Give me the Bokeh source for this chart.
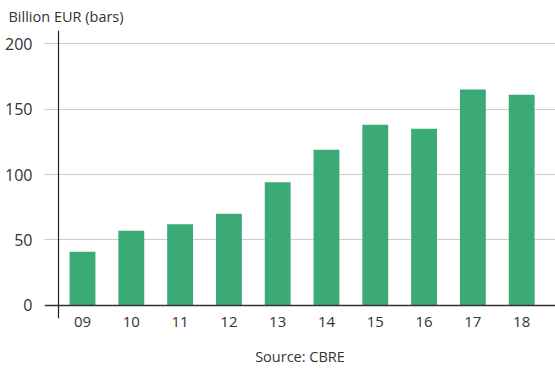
from bokeh.plotting import figure
from bokeh.models import ColumnDataSource, FixedTicker, Span, Range1d
from bokeh.embed import file_html
from bokeh.resources import INLINE

years = ["09", "10", "11", "12", "13", "14", "15", "16", "17", "18"]
values = [41, 57, 62, 70, 94, 119, 138, 135, 165, 161]
y_ticks = [0, 50, 100, 150, 200]

xs = list(range(len(years)))
src = ColumnDataSource(dict(x=xs, top=values))

FONT = "Open Sans"
TXT = "#333333"

p = figure(width=555, height=369, output_backend="svg", toolbar_location=None,
           x_range=Range1d(-0.779, 9.693), y_range=Range1d(-10, 210),
           min_border_left=44, min_border_right=0, min_border_top=2, min_border_bottom=51)
p.outline_line_color = None
p.background_fill_color = "white"
p.border_fill_color = "white"

p.vbar(x="x", top="top", bottom=0, width=0.53, source=src,
       fill_color="#3BAA77", line_color=None)

# title
p.title.text = "Billion EUR (bars)"
p.title.text_font = FONT
p.title.text_font_size = "14.5px"
p.title.text_font_style = "normal"
p.title.text_color = TXT
p.title.offset = -36
p.title.standoff = 9

# y axis
p.yaxis.ticker = FixedTicker(ticks=y_ticks)
p.yaxis.axis_line_color = None
p.yaxis.major_tick_line_color = None
p.yaxis.minor_tick_line_color = None
p.yaxis.major_label_text_font = FONT
p.yaxis.major_label_text_font_size = "16px"
p.yaxis.major_label_text_color = TXT
p.yaxis.major_label_standoff = 6

# x axis
p.xaxis.ticker = FixedTicker(ticks=xs)
p.xaxis.major_label_overrides = {i: y for i, y in zip(xs, years)}
p.xaxis.axis_line_color = None
p.xaxis.major_tick_line_color = None
p.xaxis.minor_tick_line_color = None
p.xaxis.major_label_text_font = FONT
p.xaxis.major_label_text_font_size = "15px"
p.xaxis.major_label_text_color = TXT
p.xaxis.major_label_standoff = -8
p.xaxis.axis_label = "Source: CBRE"
p.xaxis.axis_label_text_font = FONT
p.xaxis.axis_label_text_font_size = "14.5px"
p.xaxis.axis_label_text_font_style = "normal"
p.xaxis.axis_label_text_color = TXT
p.xaxis.axis_label_standoff = 17

p.xgrid.grid_line_color = None
p.ygrid.ticker = FixedTicker(ticks=y_ticks)
p.ygrid.grid_line_color = "#cccccc"
p.ygrid.grid_line_width = 1

p.add_layout(Span(location=0, dimension="width", line_color="#333333", line_width=1.5))
p.add_layout(Span(location=-0.492, dimension="height", line_color="#222222", line_width=1.2))

open("out.html", "w").write(file_html(p, INLINE))
